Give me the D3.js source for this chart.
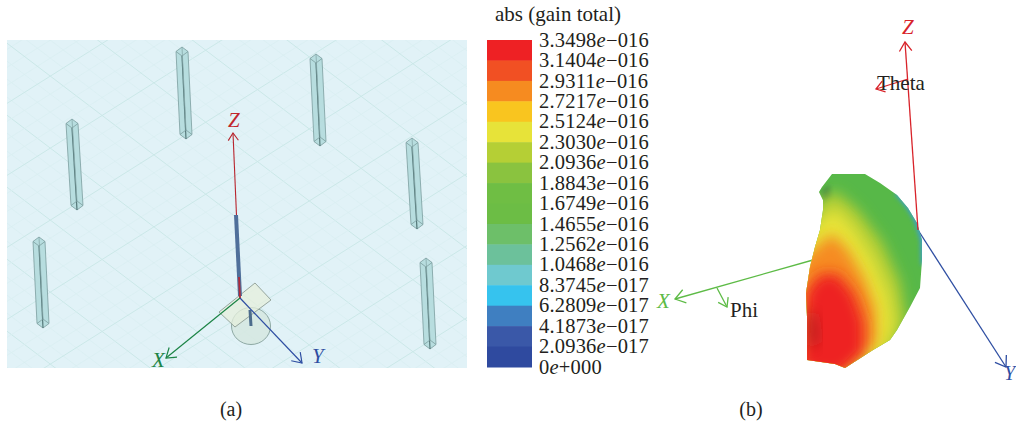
<!DOCTYPE html>
<html>
<head>
<meta charset="utf-8">
<title>abs (gain total)</title>
<script src="https://d3js.org/d3.v7.min.js"></script>
<style>
html, body { margin: 0; padding: 0; background: #fff; }
svg { display: block; }
text { font-family: "Liberation Serif", serif; fill: #231f20; }
</style>
</head>
<body>
<script>
// legend
var gainValues = [3.3498e-16, 3.1404e-16, 2.9311e-16, 2.7217e-16, 2.5124e-16, 2.3030e-16, 2.0936e-16, 1.8843e-16,
	1.6749e-16, 1.4655e-16, 1.2562e-16, 1.0468e-16, 8.3745e-17, 6.2809e-17, 4.1873e-17, 2.0936e-17, 0];
var gainMantissa = ["3.3498", "3.1404", "2.9311", "2.7217", "2.5124", "2.3030", "2.0936", "1.8843",
	"1.6749", "1.4655", "1.2562", "1.0468", "8.3745", "6.2809", "4.1873", "2.0936", "0"];
var gainExponent = ["\u2212016", "\u2212016", "\u2212016", "\u2212016", "\u2212016", "\u2212016", "\u2212016", "\u2212016",
	"\u2212016", "\u2212016", "\u2212016", "\u2212016", "\u2212017", "\u2212017", "\u2212017", "\u2212017", "+000"];
var bandColors = ["#ee2124", "#f15023", "#f68b20", "#f9c51f", "#e7e339", "#b5cf35", "#8ac33f", "#6fbe44",
	"#6cbd45", "#6dbf69", "#6cc19b", "#6fc9cf", "#36c3ee", "#3f7fc1", "#3a58a8", "#2f4a9f"];

// panel (a), units are from the panel's top left corner
var postTops = [[65, 79], [175, 7], [309, 14], [405, 98], [32, 197], [419, 218]];
var postBottoms = [[70, 170], [179, 99], [313, 106], [410, 189], [36, 288], [423, 309]];
var originA = [233, 258];
var zTipA = [226, 93], xTipA = [159, 318], yTipA = [295, 323];
var dipole = [[229, 175], [233, 256]];
var dipoleFoot = [[232, 237], [233, 258]];
var feed = [[243, 270], [244, 286]];
var plate = [[248, 243], [264, 260], [228, 287], [212, 272]];
var disc = [244, 286, 19.5, 18.5];

// panel (b), units are from (650, 20)
var shapeOutline = [[182,154],[215,154],[230,163],[247,175],[258,188],[267,203],[272,220],[272,240],[270,268],[260,287],
	[247,310],[240,320],[223,330],[195,348],[185,344],[157,340],[157,297],[156,273],[160,247],[165,227],[170,210],[173,190],
	[173,180],[169,172],[172,167]];
var contourGains = [2.2e-16, 2.4e-16, 2.8e-16, 3.3e-16];
var contours = [
	[[172,178],[186,172],[208,190],[232,222],[250,262],[256,300],[245,328],[190,360],[150,350],[150,220]],
	[[172,197],[186,189],[204,208],[224,240],[239,275],[244,305],[235,330],[190,355],[150,345],[150,220]],
	[[165,228],[182,214],[198,230],[214,258],[225,288],[226,322],[190,352],[150,345],[150,240]],
	[[156,272],[170,254],[188,254],[204,274],[214,302],[214,332],[190,355],[150,350]]
];
var edgeStrip = [[247,172],[258,185],[267,200],[273,220],[274,245]];
var darkPatch = [[157,292],[165,294],[169,320],[160,330]];
var darkGreenPatch = [[171,170],[180,165],[181,178],[174,183]];

var axisX = [[163,240],[25,279]], axisY = [[268,210],[356,347]], axisZ = [[268,210],[255,22]];
var thetaArc = [[258,59],[226,69]], phiArc = [[67,268],[77,287]];

var width = 1016, height = 429;
var svg = d3.select("body").append("svg").attr("width", width).attr("height", height);
var defs = svg.append("defs");

var ax = d3.scaleLinear().domain([0, 460]).range([7, 467]);
var ay = d3.scaleLinear().domain([0, 328]).range([40, 368]);
var bx = d3.scaleLinear().domain([0, 366]).range([650, 1016]);
var by = d3.scaleLinear().domain([0, 409]).range([20, 429]);
var lineA = d3.line().x(function(d){ return ax(d[0]); }).y(function(d){ return ay(d[1]); });
var lineB = d3.line().x(function(d){ return bx(d[0]); }).y(function(d){ return by(d[1]); });

function arrow(g, line, from, to, color, w, size){
	var p = [from, to];
	g.append("path").attr("d", line(p)).attr("fill", "none").attr("stroke", color).attr("stroke-width", w);
	var ang = Math.atan2(to[1] - from[1], to[0] - from[0]);
	var head = [
		[to[0] - size * Math.cos(ang - 0.6), to[1] - size * Math.sin(ang - 0.6)],
		to,
		[to[0] - size * Math.cos(ang + 0.6), to[1] - size * Math.sin(ang + 0.6)]
	];
	g.append("path").attr("d", line(head)).attr("fill", "none").attr("stroke", color).attr("stroke-width", w);
}

// ---------- panel (a) ----------
defs.append("clipPath").attr("id", "clipA").append("rect")
	.attr("x", ax(0)).attr("y", ay(0)).attr("width", 460).attr("height", 328);

var panelA = svg.append("g");
panelA.append("rect").attr("x", ax(0)).attr("y", ay(0)).attr("width", 460).attr("height", 328).attr("fill", "#e1f2f7");

var gridG = panelA.append("g").attr("clip-path", "url(#clipA)");
d3.range(-20, 60).forEach(function(i){
	var heavy = (i % 4 === 0);
	var c = heavy ? "#cbe8e8" : "#d9eef1";
	var w = heavy ? 1 : 0.7;
	// lower left to upper right
	gridG.append("path").attr("d", lineA([[-20, i * 18 + 4], [500, i * 18 + 4 - 520 * 0.63]]))
		.attr("stroke", c).attr("stroke-width", w).attr("fill", "none");
	// upper left to lower right
	gridG.append("path").attr("d", lineA([[-20, -i * 18 + 60], [500, -i * 18 + 60 + 520 * 0.76]]))
		.attr("stroke", c).attr("stroke-width", w).attr("fill", "none");
});

postTops.forEach(function(t, i){
	var b = postBottoms[i];
	var g = panelA.append("g");
	var hw = 6, hh = 4.5;
	g.append("path").attr("d", lineA([
		[t[0], t[1]], [t[0] + hw, t[1] + hh], [b[0] + hw, b[1] - hh], [b[0], b[1]], [b[0] - hw, b[1] - hh], [t[0] - hw, t[1] + hh]
	]) + "Z").attr("fill", "#b2dadb").attr("fill-opacity", 0.9).attr("stroke", "#7b9d9e").attr("stroke-width", 0.8);
	g.append("path").attr("d", lineA([[t[0], t[1] + 2 * hh], [b[0], b[1]]]))
		.attr("stroke", "#557879").attr("stroke-width", 1.2).attr("fill", "none");
	g.append("path").attr("d", lineA([[t[0], t[1]], [b[0], b[1] - 2 * hh]]))
		.attr("stroke", "#86a8a9").attr("stroke-width", 0.8).attr("fill", "none");
	g.append("path").attr("d", lineA([[t[0] - hw, t[1] + hh], [t[0], t[1] + 2 * hh], [t[0] + hw, t[1] + hh]]))
		.attr("stroke", "#7b9d9e").attr("stroke-width", 0.8).attr("fill", "none");
	g.append("path").attr("d", lineA([[b[0] - hw, b[1] - hh], [b[0], b[1] - 2 * hh], [b[0] + hw, b[1] - hh]]))
		.attr("stroke", "#7b9d9e").attr("stroke-width", 0.8).attr("fill", "none");
});

panelA.append("ellipse").attr("cx", ax(disc[0])).attr("cy", ay(disc[1])).attr("rx", disc[2]).attr("ry", disc[3])
	.attr("fill", "#d3e6dc").attr("fill-opacity", 0.7).attr("stroke", "#85a09b").attr("stroke-width", 0.9);
panelA.append("path").attr("d", lineA(plate) + "Z")
	.attr("fill", "#e6efdc").attr("fill-opacity", 0.75).attr("stroke", "#84938a").attr("stroke-width", 0.8);
panelA.append("path").attr("d", lineA(feed)).attr("stroke", "#4c6c8c").attr("stroke-width", 3).attr("fill", "none");

arrow(panelA, lineA, originA, zTipA, "#b8252e", 1.1, 9);
panelA.append("path").attr("d", lineA(dipole)).attr("stroke", "#4f6f9a").attr("stroke-width", 4).attr("fill", "none");
panelA.append("path").attr("d", lineA(dipoleFoot)).attr("stroke", "#b02a3a").attr("stroke-width", 1.8).attr("fill", "none");
arrow(panelA, lineA, originA, xTipA, "#1c8446", 1.2, 11);
arrow(panelA, lineA, originA, yTipA, "#2e4ea2", 1.2, 11);

panelA.append("text").attr("x", ax(221)).attr("y", ay(87)).attr("font-size", 21).attr("font-style", "italic")
	.style("fill", "#c1272d").text("Z");
panelA.append("text").attr("x", ax(145)).attr("y", ay(327)).attr("font-size", 21).attr("font-style", "italic")
	.style("fill", "#1c8446").text("X");
panelA.append("text").attr("x", ax(305)).attr("y", ay(323)).attr("font-size", 21).attr("font-style", "italic")
	.style("fill", "#2e4ea2").text("Y");

// ---------- legend ----------
var gainY = d3.scaleLinear().domain([0, gainValues[0]]).range([367, 40]);
var legendX = d3.scaleLinear().domain([0, 1]).range([487, 532]);
var legend = svg.append("g");

legend.selectAll("rect").data(bandColors).enter().append("rect")
	.attr("x", legendX(0))
	.attr("width", legendX(1) - legendX(0))
	.attr("y", function(d, i){ return gainY(gainValues[i]); })
	.attr("height", function(d, i){ return gainY(gainValues[i + 1]) - gainY(gainValues[i]) + 0.5; })
	.attr("fill", function(d){ return d; });

var legendAxis = d3.axisRight(gainY).tickValues(gainValues).tickSize(0).tickPadding(0).tickFormat(function(d, i){ return gainMantissa[i]; });
var legendTicks = svg.append("g").attr("transform", "translate(539,0)").call(legendAxis);
legendTicks.select(".domain").remove();
legendTicks.selectAll("text")
	.attr("font-family", "Liberation Serif").attr("font-size", 20.5).attr("dy", "0.3em")
	.style("fill", "#231f20").style("letter-spacing", "0.2px")
	.each(function(d, i){
		var t = d3.select(this);
		t.text(gainMantissa[i]);
		t.append("tspan").attr("font-style", "italic").text("e");
		t.append("tspan").text(gainExponent[i]);
	});

svg.append("text").attr("x", 495).attr("y", 21).attr("font-size", 21).text("abs (gain total)");

// ---------- panel (b) ----------
var panelB = svg.append("g");
// colours of the radiation pattern come from the legend bands
var gainColor = d3.scaleThreshold()
	.domain(gainValues.slice(1, 16).reverse())
	.range(bandColors.slice().reverse());

defs.append("clipPath").attr("id", "shapeClip").append("path").attr("d", lineB(shapeOutline) + "Z");
defs.append("filter").attr("id", "soft").attr("x", "-30%").attr("y", "-30%").attr("width", "160%").attr("height", "160%")
	.append("feGaussianBlur").attr("stdDeviation", 7);
defs.append("filter").attr("id", "soft2").attr("x", "-30%").attr("y", "-30%").attr("width", "160%").attr("height", "160%")
	.append("feGaussianBlur").attr("stdDeviation", 2);

arrow(panelB, lineB, axisX[0], axisX[1], "#5dbb46", 1.3, 12);
arrow(panelB, lineB, axisY[0], axisY[1], "#2e4ea2", 1.3, 12);

var shape = panelB.append("g").attr("clip-path", "url(#shapeClip)");
shape.append("rect").attr("x", bx(140)).attr("y", by(140)).attr("width", 150).attr("height", 220).attr("fill", "#57b848");
shape.append("path").attr("d", lineB(darkGreenPatch) + "Z").attr("fill", "#3f8f45").attr("filter", "url(#soft2)");
contours.forEach(function(c, i){
	shape.append("path").attr("d", lineB(c) + "Z").attr("fill", gainColor(contourGains[i])).attr("filter", "url(#soft)");
});
shape.append("path").attr("d", lineB(darkPatch) + "Z").attr("fill", "#9a1f1f").attr("fill-opacity", 0.7).attr("filter", "url(#soft)");
shape.append("path").attr("d", lineB(edgeStrip)).attr("fill", "none").attr("stroke", "#3d9fc9").attr("stroke-width", 6)
	.attr("filter", "url(#soft2)");

arrow(panelB, lineB, axisZ[0], axisZ[1], "#d8232a", 1.3, 11);
arrow(panelB, lineB, thetaArc[0], thetaArc[1], "#d8232a", 1.3, 10);
arrow(panelB, lineB, phiArc[0], phiArc[1], "#5dbb46", 1.3, 10);

panelB.append("text").attr("x", bx(252)).attr("y", by(14)).attr("font-size", 21).attr("font-style", "italic")
	.style("fill", "#d8232a").text("Z");
panelB.append("text").attr("x", bx(7)).attr("y", by(288)).attr("font-size", 21).attr("font-style", "italic")
	.style("fill", "#5dbb46").text("X");
panelB.append("text").attr("x", bx(354)).attr("y", by(360)).attr("font-size", 20).attr("font-style", "italic")
	.style("fill", "#2e4ea2").text("Y");
panelB.append("text").attr("x", bx(227)).attr("y", by(70)).attr("font-size", 21).text("Theta");
panelB.append("text").attr("x", bx(80)).attr("y", by(297)).attr("font-size", 21).text("Phi");

// ---------- captions ----------
svg.append("text").attr("x", 231).attr("y", 416).attr("text-anchor", "middle").attr("font-size", 20).text("(a)");
svg.append("text").attr("x", 751).attr("y", 416).attr("text-anchor", "middle").attr("font-size", 20).text("(b)");
</script>
</body>
</html>
